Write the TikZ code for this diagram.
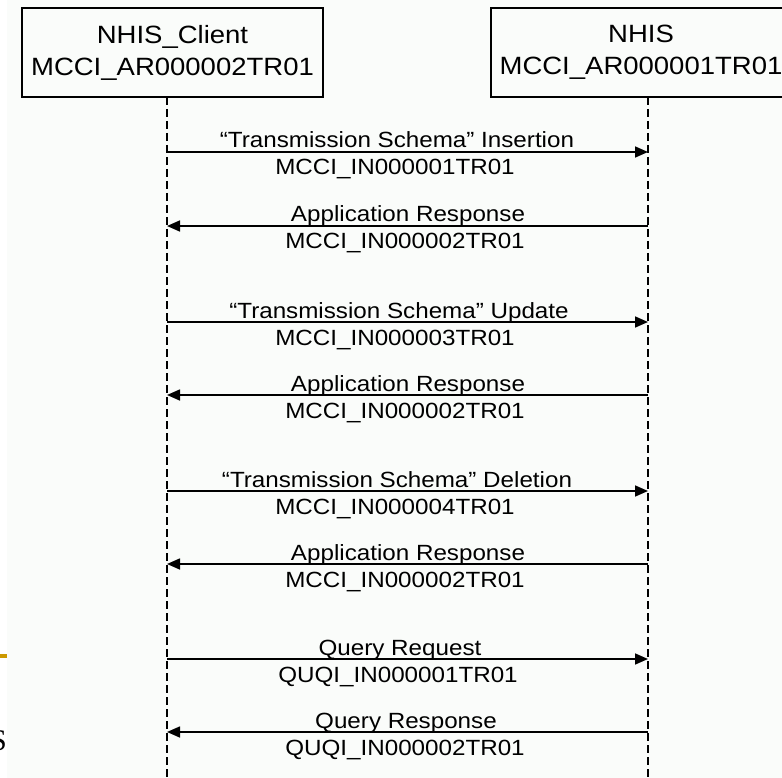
\documentclass[tikz,border=0pt]{standalone}
\usepackage{fontspec}
\usetikzlibrary{arrows.meta}
\newfontfamily\diafont[FakeStretch=1.1]{Liberation Sans}
\newfontfamily\serfont{Liberation Serif}
\definecolor{bgc}{RGB}{250,252,250}
\definecolor{goldc}{RGB}{204,153,0}
\begin{document}
\begin{tikzpicture}[x=1pt,y=-1pt,
  objbox/.style={draw=black,line width=1.8pt,minimum width=301pt,minimum height=89pt,
    align=center,inner sep=0pt,font=\diafont\fontsize{25}{32}\selectfont},
  lifeline/.style={line width=1.8pt,dash pattern=on 8pt off 4pt},
  msg/.style={line width=1.6pt,-{Triangle[length=13pt,width=11pt]}},
  lbl/.style={anchor=base,inner sep=0pt,font=\diafont\fontsize{22}{26}\selectfont}]
\useasboundingbox (0,0) rectangle (782,778);
\clip (0,0) rectangle (782,778);
\fill[white] (0,0) rectangle (782,778);
\fill[bgc] (7,0) rectangle (782,778);
% crop remnants at left edge
\fill[goldc] (0,654) rectangle (7,658);
\node[anchor=base west,inner sep=0pt,font=\serfont\fontsize{30}{30}\selectfont] (sfrag) at (-10,750) {S};
% boxes
\node[objbox] (client) at (172.5,52.5) {NHIS\_Client\\MCCI\_AR000002TR01};
\node[objbox,minimum width=300pt] (nhis) at (641,52.5) {NHIS\\MCCI\_AR000001TR01};
% lifelines
\coordinate (lt) at (167,97);
\coordinate (lb) at (167,780);
\coordinate (rt) at (648,97);
\coordinate (rb) at (648,780);
\draw[lifeline] (lt) -- (lb);
\draw[lifeline] (rt) -- (rb);
% message end points
\foreach \i/\y in {1/152,2/226,3/322,4/395,5/491,6/564,7/659,8/732}{
  \coordinate (l\i) at (167,\y);
  \coordinate (r\i) at (648,\y);
}
\draw[msg] (l1) -- (r1);
\draw[msg] (r2) -- (l2);
\draw[msg] (l3) -- (r3);
\draw[msg] (r4) -- (l4);
\draw[msg] (l5) -- (r5);
\draw[msg] (r6) -- (l6);
\draw[msg] (l7) -- (r7);
\draw[msg] (r8) -- (l8);
% labels
\node[lbl] (t1a) at (397,148) {“Transmission Schema” Insertion};
\node[lbl] (t1b) at (395,175) {MCCI\_IN000001TR01};
\node[lbl] (t2a) at (408,222) {Application Response};
\node[lbl] (t2b) at (405,249) {MCCI\_IN000002TR01};
\node[lbl] (t3a) at (399,318) {“Transmission Schema” Update};
\node[lbl] (t3b) at (395,345) {MCCI\_IN000003TR01};
\node[lbl] (t4a) at (408,391) {Application Response};
\node[lbl] (t4b) at (405,418) {MCCI\_IN000002TR01};
\node[lbl] (t5a) at (397,487) {“Transmission Schema” Deletion};
\node[lbl] (t5b) at (395,514) {MCCI\_IN000004TR01};
\node[lbl] (t6a) at (408,560) {Application Response};
\node[lbl] (t6b) at (405,587) {MCCI\_IN000002TR01};
\node[lbl] (t7a) at (400,655) {Query Request};
\node[lbl] (t7b) at (398,682) {QUQI\_IN000001TR01};
\node[lbl] (t8a) at (406,728) {Query Response};
\node[lbl] (t8b) at (405,755) {QUQI\_IN000002TR01};
\end{tikzpicture}
\end{document}
